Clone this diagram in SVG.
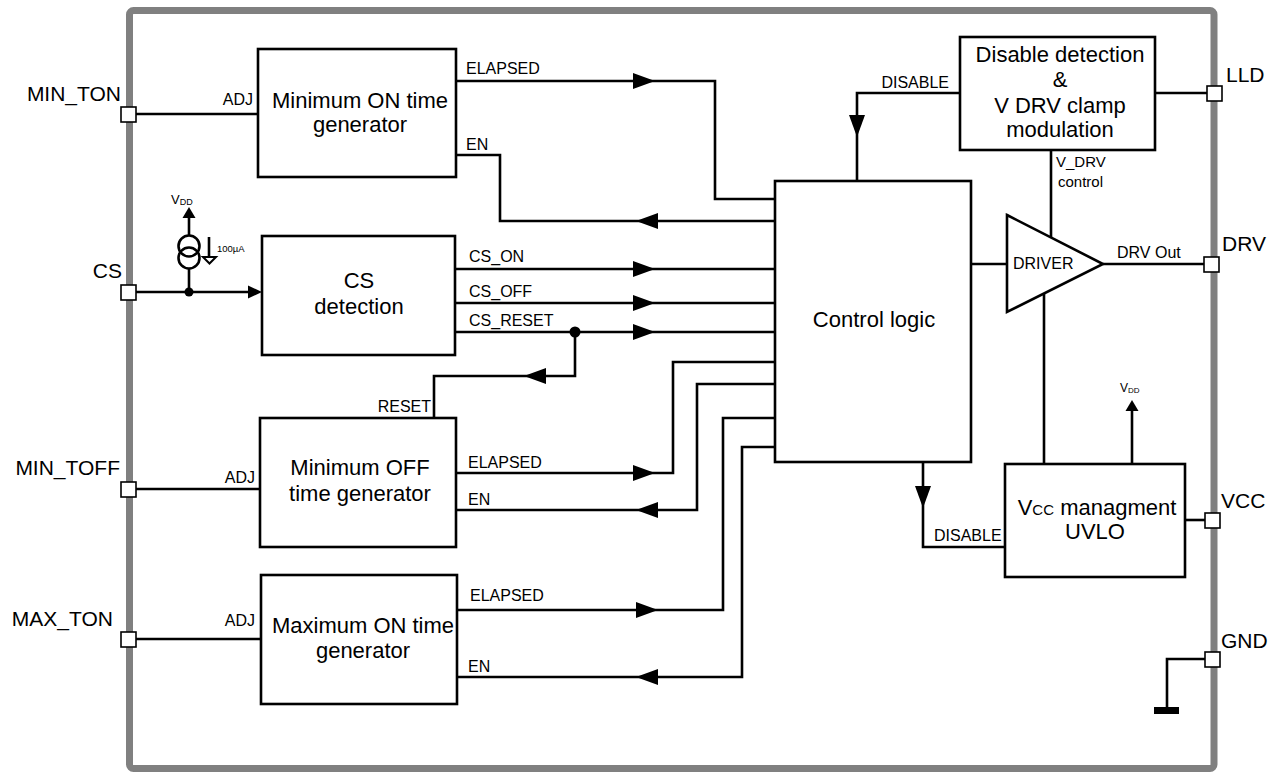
<svg xmlns="http://www.w3.org/2000/svg" width="1279" height="773" viewBox="0 0 1279 773">
<style>
text{font-family:"Liberation Sans",Arial,sans-serif;fill:#000}
.box{fill:#fff;stroke:#000;stroke-width:2.6}
.w{fill:none;stroke:#000;stroke-width:2.6;stroke-linejoin:miter}
.pin{fill:#fff;stroke:#000;stroke-width:1.6}
.bt{font-size:22px;text-anchor:middle}
.pl{font-size:21px}
.sl{font-size:16px}
.xs{font-size:15px}
.end{text-anchor:end}
</style>
<defs>
<path id="ar" d="M0,0 L-22,-8 L-22,8 Z" fill="#000"/>
<path id="as" d="M0,0 L-14,-6.5 L-14,6.5 Z" fill="#000"/>
<path id="av" d="M0,0 L-11,-6.5 L-11,6.5 Z" fill="#000"/>
</defs>
<rect x="129.5" y="10.5" width="1084.5" height="758" rx="4" fill="none" stroke="#808080" stroke-width="7"/>

<g id="connectors">
<path class="w" d="M456,81 H715 V199 H775"/>
<path class="w" d="M456,155 H500 V221 H775"/>
<path class="w" d="M455,269 H775"/>
<path class="w" d="M455,303 H775"/>
<path class="w" d="M455,332 H775"/>
<path class="w" d="M575,332 V376 H434 V418"/>
<path class="w" d="M456,473 H673 V362 H775"/>
<path class="w" d="M456,510 H697 V384 H775"/>
<path class="w" d="M457,610 H723 V418 H775"/>
<path class="w" d="M457,677 H742 V447 H775"/>
<path class="w" d="M960,93 H857 V181"/>
<path class="w" d="M971,264 H1007"/>
<path class="w" d="M1051,150 V237"/>
<path class="w" d="M1103,264 H1204"/>
<path class="w" d="M1155,93 H1207"/>
<path class="w" d="M1044,294 V464"/>
<path class="w" d="M1132,464 V405"/>
<path class="w" d="M923,462 V547 H1005"/>
<path class="w" d="M1185,520 H1205"/>
<path class="w" d="M1205,659 H1167 V708"/>
<rect x="1154" y="707" width="25" height="7" fill="#000"/>
<path class="w" d="M136,114 H258"/>
<path class="w" d="M136,292 H250"/>
<path class="w" d="M136,489 H260"/>
<path class="w" d="M136,639 H261"/>
<circle cx="575" cy="332" r="5.5" fill="#000"/>
<circle cx="189" cy="292" r="4.5" fill="#000"/>
<use href="#ar" transform="translate(655,81)"/>
<use href="#ar" transform="translate(655,269)"/>
<use href="#ar" transform="translate(655,303)"/>
<use href="#ar" transform="translate(655,332)"/>
<use href="#ar" transform="translate(655,473)"/>
<use href="#ar" transform="translate(658,610)"/>
<use href="#ar" transform="translate(636,221) rotate(180)"/>
<use href="#ar" transform="translate(636,510) rotate(180)"/>
<use href="#ar" transform="translate(636,677) rotate(180)"/>
<use href="#ar" transform="translate(524,376) rotate(180)"/>
<use href="#ar" transform="translate(857,137) rotate(90)"/>
<use href="#ar" transform="translate(923,508) rotate(90)"/>
<use href="#as" transform="translate(262,292)"/>
<use href="#av" transform="translate(1132,400) rotate(-90)"/>
<text class="sl" x="466" y="74">ELAPSED</text>
<text class="sl" x="466" y="150">EN</text>
<text class="sl" x="469" y="262">CS_ON</text>
<text class="sl" x="469" y="297">CS_OFF</text>
<text class="sl" x="469" y="326">CS_RESET</text>
<text class="sl end" x="431" y="412">RESET</text>
<text class="sl" x="468" y="468">ELAPSED</text>
<text class="sl" x="468" y="505">EN</text>
<text class="sl" x="470" y="601">ELAPSED</text>
<text class="sl" x="468" y="672">EN</text>
<text class="sl end" x="949" y="88">DISABLE</text>
<text class="sl" x="934" y="541">DISABLE</text>
<text class="xs" x="1056" y="167">V_DRV</text>
<text class="xs" x="1058" y="187">control</text>
<text class="sl" x="1117" y="258">DRV Out</text>
<text class="sl end" x="253" y="105">ADJ</text>
<text class="sl end" x="255" y="483">ADJ</text>
<text class="sl end" x="255" y="626">ADJ</text>
<text x="1120" y="392" font-size="12">V<tspan font-size="8" dy="1">DD</tspan></text>
</g>

<g id="cs-source">
<path class="w" d="M189,292 V269"/>
<path class="w" d="M189,235 V212"/>
<circle cx="189" cy="246" r="10.5" fill="none" stroke="#000" stroke-width="2.6"/>
<circle cx="189" cy="258" r="10.5" fill="none" stroke="#000" stroke-width="2.6"/>
<use href="#av" transform="translate(189,207) rotate(-90)"/>
<path class="w" d="M209,237 V256"/>
<path d="M203,257 H216 L209.5,263.5 Z" fill="#fff" stroke="#000" stroke-width="2"/>
<text x="217" y="252" font-size="9.5">100µA</text>
<text x="171" y="204" font-size="13">V<tspan font-size="9" dy="1">DD</tspan></text>
</g>

<g id="pins">
<rect class="pin" x="121" y="107" width="15" height="15"/>
<rect class="pin" x="121" y="285" width="15" height="15"/>
<rect class="pin" x="121" y="482" width="15" height="15"/>
<rect class="pin" x="121" y="632" width="15" height="15"/>
<rect class="pin" x="1207" y="86" width="15" height="15"/>
<rect class="pin" x="1204" y="257" width="15" height="15"/>
<rect class="pin" x="1205" y="513" width="15" height="15"/>
<rect class="pin" x="1205" y="652" width="15" height="15"/>
<text class="pl end" x="121" y="101">MIN_TON</text>
<text class="pl end" x="122" y="278">CS</text>
<text class="pl end" x="120" y="475">MIN_TOFF</text>
<text class="pl end" x="113" y="626">MAX_TON</text>
<text class="pl" x="1226" y="82">LLD</text>
<text class="pl" x="1222" y="251">DRV</text>
<text class="pl" x="1221" y="508">VCC</text>
<text class="pl" x="1221" y="648">GND</text>
</g>

<g id="min-on">
<rect class="box" x="258" y="49" width="198" height="128"/>
<text class="bt" x="360" y="108">Minimum ON time</text>
<text class="bt" x="360" y="132">generator</text>
</g>

<g id="cs-detection">
<rect class="box" x="262" y="236" width="193" height="119"/>
<text class="bt" x="359" y="288">CS</text>
<text class="bt" x="359" y="314">detection</text>
</g>

<g id="min-off">
<rect class="box" x="260" y="418" width="196" height="129"/>
<text class="bt" x="360" y="475">Minimum OFF</text>
<text class="bt" x="360" y="501">time generator</text>
</g>

<g id="max-on">
<rect class="box" x="261" y="575" width="196" height="129"/>
<text class="bt" x="363" y="633">Maximum ON time</text>
<text class="bt" x="363" y="658">generator</text>
</g>

<g id="control-logic">
<rect class="box" x="775" y="181" width="196" height="281"/>
<text class="bt" x="874" y="327">Control logic</text>
</g>

<g id="disable-detection">
<rect class="box" x="960" y="37" width="195" height="113"/>
<text class="bt" x="1060" y="62">Disable detection</text>
<text class="bt" x="1060" y="87">&amp;</text>
<text class="bt" x="1060" y="113">V DRV clamp</text>
<text class="bt" x="1060" y="137">modulation</text>
</g>

<g id="driver">
<path d="M1007,215 L1103,264 L1007,312 Z" fill="#fff" stroke="#000" stroke-width="2.6" stroke-linejoin="miter"/>
<text class="sl" x="1013" y="269">DRIVER</text>
</g>

<g id="vcc-management">
<rect class="box" x="1005" y="464" width="180" height="113"/>
<text class="bt" x="1097" y="515">V<tspan font-size="15">CC</tspan> managment</text>
<text class="bt" x="1095" y="539">UVLO</text>
</g>
</svg>
